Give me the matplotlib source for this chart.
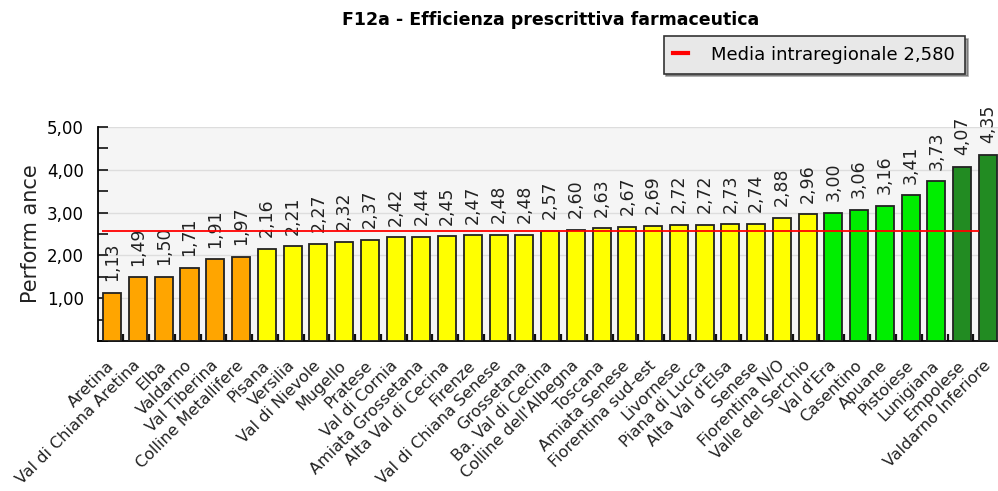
import numpy as np
import matplotlib.pyplot as plt
from matplotlib.ticker import FuncFormatter, MultipleLocator, FixedLocator

# Dati
zone = ["Aretina", "Val di Chiana Aretina", "Elba", "Valdarno", "Val Tiberina",
        "Colline Metallifere", "Pisana", "Versilia", "Val di Nievole", "Mugello",
        "Pratese", "Val di Cornia", "Amiata Grossetana", "Alta Val di Cecina",
        "Firenze", "Val di Chiana Senese", "Grossetana", "Ba. Val di Cecina",
        "Colline dell'Albegna", "Toscana", "Amiata Senese", "Fiorentina sud-est",
        "Livornese", "Piana di Lucca", "Alta Val d'Elsa", "Senese", "Fiorentina N/O",
        "Valle del Serchio", "Val d'Era", "Casentino", "Apuane", "Pistoiese",
        "Lunigiana", "Empolese", "Valdarno Inferiore"]
valori = [1.13, 1.49, 1.50, 1.71, 1.91, 1.97, 2.16, 2.21, 2.27, 2.32, 2.37, 2.42,
          2.44, 2.45, 2.47, 2.48, 2.48, 2.57, 2.60, 2.63, 2.67, 2.69, 2.72, 2.72,
          2.73, 2.74, 2.88, 2.96, 3.00, 3.06, 3.16, 3.41, 3.73, 4.07, 4.35]
media = 2.580


def colore(v):
    if v < 2:
        return '#FFA500'
    if v < 3:
        return '#FFFF00'
    if v < 4:
        return '#00EE00'
    return '#228B22'


def virgola(v, pos=None):
    return ('%.2f' % v).replace('.', ',')


fig = plt.figure(figsize=(9.98, 4.91), dpi=100)
ax = fig.add_axes([0.098, 0.3055, 0.902, 0.4358])
ax.set_facecolor('#f5f5f5')

x = np.arange(len(valori))
ax.bar(x, valori, width=0.7, color=[colore(v) for v in valori],
       edgecolor='#222222', linewidth=1.3, zorder=3)

for xi, v in zip(x, valori):
    ax.text(xi, v + 0.27, virgola(v), rotation=90, ha='center', va='bottom',
            fontsize=12.5, color='#222222', clip_on=False)

# linea della media
ax.hlines(media, -0.41, len(valori) - 1.35, colors='red', linewidth=1.3, zorder=4)

ax.set_xlim(-0.56, len(valori) - 0.61)
ax.set_ylim(0, 5)
ax.yaxis.set_major_locator(MultipleLocator(1))
ax.yaxis.set_minor_locator(MultipleLocator(0.5))
ax.yaxis.set_major_formatter(FuncFormatter(lambda v, p: '' if v == 0 else virgola(v)))
ax.grid(axis='y', color='#dddddd', linewidth=1, zorder=0)
ax.tick_params(axis='y', which='both', direction='in', length=7, width=1.3,
               color='#222222', labelsize=12, pad=10)
ax.set_ylabel('Perform ance', fontsize=15, color='#222222', labelpad=4)

ax.set_xticks(x)
ax.set_xticklabels(zone, rotation=45, ha='right', va='center',
                   rotation_mode='anchor', fontsize=11.5, color='#222222')
ax.tick_params(axis='x', which='major', length=0, pad=16)
ax.xaxis.set_minor_locator(FixedLocator(x + 0.43))
ax.tick_params(axis='x', which='minor', direction='in', length=5, width=1.6,
               color='#111111')

for s in ['top', 'right']:
    ax.spines[s].set_visible(False)
ax.spines['left'].set_linewidth(1.3)
ax.spines['bottom'].set_linewidth(1.3)

fig.text(0.552, 0.959, 'F12a - Efficienza prescrittiva farmaceutica',
         ha='center', va='center', fontsize=12.5, fontweight='bold')

linea = plt.Line2D([], [], color='red', linewidth=3)
leg = fig.legend([linea], ['Media intraregionale 2,580'], loc='upper right',
                 bbox_to_anchor=(0.967, 0.927), borderaxespad=0,
                 frameon=True, fancybox=False,
                 shadow=True, facecolor='#e8e8e8', edgecolor='#333333',
                 handlelength=0.8, handletextpad=1.3, fontsize=13,
                 borderpad=0.55)
leg.get_frame().set_linewidth(1.2)

plt.savefig('out.png', dpi=100)
